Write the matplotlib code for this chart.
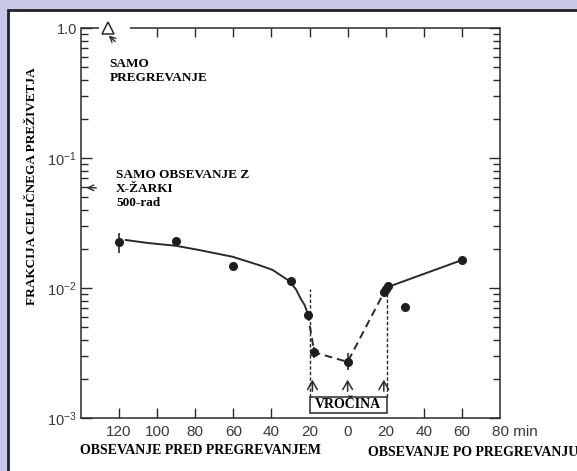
import numpy as np
import matplotlib
matplotlib.use("Agg")
import matplotlib.pyplot as plt
import matplotlib.patches as patches

# measured points (minutes relative to heating, survival fraction)
pts_x = [-120, -90, -60, -30, -21, -17.5, 0, 19, 20, 21, 30, 60]
pts_y = [0.0226, 0.0228, 0.0148, 0.0113, 0.0062, 0.0032, 0.0027, 0.0093, 0.0098, 0.0104, 0.0072, 0.0164]

# error bars
err_x = [-120, -30, -17.5, 0]
err_lo = [0.0186, 0.0106, 0.0029, 0.00234]
err_hi = [0.0265, 0.0122, 0.0035, 0.00316]

# drawn curves
pre_x = [-116.5, -105, -90, -78, -60.5, -46.5, -39.5, -34, -30.5, -27, -24.5, -22.6, -21]
pre_y = [0.0234, 0.0222, 0.0211, 0.0196, 0.0174, 0.0150, 0.0138, 0.0122, 0.0113, 0.0097,
         0.0082, 0.0074, 0.0064]
heat_x = [-21, -17.5, 0, 19.5]
heat_y = [0.0064, 0.0032, 0.0027, 0.0095]
post_x = [20.5, 60]
post_y = [0.0101, 0.0164]

xtick_pos = [-120, -100, -80, -60, -40, -20, 0, 20, 40, 60]
xtick_lab = ["120", "100", "80", "60", "40", "20", "0", "20", "40", "60"]
top_ticks = [-100, -80, -60, -40, -20, 0, 20, 40, 60]
ytick_pos = [1e-3, 1e-2, 1e-1, 1.0]
ytick_lab = ["10$^{-3}$", "10$^{-2}$", "10$^{-1}$", "1.0"]

ink = "#2a2a2a"
serif = ["Liberation Serif", "DejaVu Serif"]
plt.rcParams["font.family"] = ["Liberation Sans", "DejaVu Sans"]
plt.rcParams["mathtext.fontset"] = "custom"
plt.rcParams["mathtext.rm"] = "Liberation Sans"
plt.rcParams["mathtext.it"] = "Liberation Sans"

fig = plt.figure(figsize=(5.77, 4.71), dpi=100)
fig.patch.set_facecolor("#c8cae8")
panel = patches.Rectangle((8/577, -0.05), 1.0, 1 - 10/471 + 0.05, transform=fig.transFigure,
                          facecolor="white", edgecolor="#222222", linewidth=2, zorder=-5)
fig.patches.append(panel)

ax = fig.add_axes([81/577, 1 - 418/471, 419/577, 390/471])
ax.set_facecolor("white")
ax.set_yscale("log")
ax.set_xlim(-140, 80)
ax.set_ylim(1e-3, 1.0)

for s in ["left", "right", "bottom"]:
    ax.spines[s].set_color(ink)
    ax.spines[s].set_linewidth(1.1)
ax.spines["top"].set_visible(False)
# top border with a gap around the triangle, plus its inward ticks
ax.hlines(1.0, -140, -130.5, color=ink, lw=1.1, clip_on=False)
ax.hlines(1.0, -114.5, 80, color=ink, lw=1.1, clip_on=False)
ax.vlines(top_ticks, 0.855, 1.0, color=ink, lw=1)

ax.set_xticks(xtick_pos)
ax.set_xticklabels(xtick_lab)
ax.set_yticks(ytick_pos)
ax.set_yticklabels(ytick_lab)
ax.yaxis.set_minor_locator(matplotlib.ticker.LogLocator(base=10, subs=np.arange(2, 10)))
ax.yaxis.set_minor_formatter(matplotlib.ticker.NullFormatter())
ax.tick_params(axis="y", which="major", direction="in", length=8, width=1, color=ink,
               left=True, right=True, labelsize=10.5, labelcolor="#3a3a3a", pad=3)
ax.tick_params(axis="y", which="minor", direction="in", length=5, width=1, color=ink,
               left=True, right=True)
ax.tick_params(axis="x", which="major", direction="in", length=7, width=1, color=ink,
               top=False, bottom=True, labelsize=11, labelcolor="#3a3a3a", pad=5)
# hide bottom tick marks inside the heating box
for t, p in zip(ax.xaxis.get_major_ticks(), xtick_pos):
    if -20 <= p <= 20:
        t.tick1line.set_visible(False)
ax.text(80, 1e-3, "80 min", ha="left", va="top", fontsize=11, color="#3a3a3a",
        transform=ax.transData + matplotlib.transforms.ScaledTranslation(-6/72, -5/72, fig.dpi_scale_trans))

# curves
ax.plot(pre_x, pre_y, color=ink, lw=1.4)
ax.plot(heat_x, heat_y, color=ink, lw=1.4, dashes=(4, 2.5))
ax.plot(post_x, post_y, color=ink, lw=1.4)
ax.vlines(err_x, err_lo, err_hi, color=ink, lw=1.2)
ax.plot(pts_x, pts_y, "o", color="#1e1e1e", markersize=5.5, zorder=5)

# heating interval
ax.vlines([-20, 20.5], 0.00145, 0.0099, color=ink, lw=1, linestyles=(0, (2.5, 1.5)))
box = patches.Rectangle((-20, 0.0011), 40.5, 0.00145 - 0.0011, facecolor="white",
                        edgecolor=ink, lw=1.1, zorder=4)
ax.add_patch(box)
ax.text(0.25, 0.00126, "VROČINA", ha="center", va="center", fontsize=10, fontweight="bold",
        family=serif, zorder=6)
for p in [-18.5, 0, 19]:
    ax.annotate("", xy=(p, 0.00207), xytext=(p, 0.00153),
                arrowprops=dict(arrowstyle="->,head_length=0.6,head_width=0.35", color=ink, lw=1.1))

# heat-only and x-ray-only markers
ax.plot([-126], [1.0], "^", mfc="white", mec=ink, markersize=8, mew=1.1, clip_on=False, zorder=6)
ax.annotate("", xy=(-126.5, 0.905), xytext=(-121, 0.76),
            arrowprops=dict(arrowstyle="->", color=ink, lw=1))
ax.annotate("", xy=(-138.5, 0.059), xytext=(-130.5, 0.059),
            arrowprops=dict(arrowstyle="->", color=ink, lw=1))

ax.text(-125, 0.47, "SAMO\nPREGREVANJE", ha="left", va="center", fontsize=9.5, fontweight="bold",
        family=serif, linespacing=1.2)
ax.text(-121.5, 0.058, "SAMO OBSEVANJE Z\nX-ŽARKI\n500-rad", ha="left", va="center", fontsize=9.5,
        fontweight="bold", family=serif, linespacing=1.2)

fig.text(32/577, 1 - 186/471, "FRAKCIJA CELIČNEGA PREŽIVETJA", rotation=90, ha="center",
         va="center", fontsize=9.5, fontweight="bold", family=serif)
fig.text(200/577, 1 - 450/471, "OBSEVANJE PRED PREGREVANJEM", ha="center", va="center",
         fontsize=10, fontweight="bold", family=serif)
fig.text(368/577, 1 - 452/471, "OBSEVANJE PO PREGREVANJU", ha="left", va="center",
         fontsize=10, fontweight="bold", family=serif)

plt.savefig("out.png", dpi=100)
plt.close()
